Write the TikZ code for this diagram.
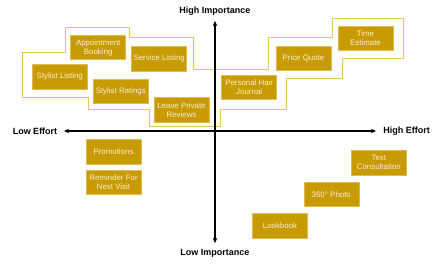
\documentclass[tikz,border=0pt]{standalone}
\usepackage{fontspec}
\setmainfont{Liberation Sans}
\usetikzlibrary{arrows.meta}
\definecolor{boxfill}{HTML}{C89B02}
\definecolor{boxedge}{HTML}{DDBB55}
\definecolor{boxtext}{HTML}{F7EED6}
\definecolor{outl}{HTML}{E5C65E}
\tikzset{
  idea/.style={draw=boxedge, line width=0.6pt, fill=boxfill, text=boxtext,
    minimum width=55pt, minimum height=24.5pt, inner sep=1pt, align=center,
    font=\fontsize{7.9}{9}\selectfont},
  axislabel/.style={font=\fontsize{9}{11}\selectfont\bfseries, text=black, inner sep=0pt},
  axis/.style={line width=1.1pt, {Stealth[length=5pt,width=4.5pt,inset=1.5pt]}-{Stealth[length=5pt,width=4.5pt,inset=1.5pt]}},
  group/.style={draw=outl, line width=1pt}
}
\begin{document}
\begin{tikzpicture}[x=1pt,y=-1pt]
\useasboundingbox (0,0) rectangle (440,263);
\fill[white] (0,0) rectangle (440,263);
% grouping outline
\draw[group] (22.3,52) -- (65.5,52) -- (65.5,27.3) -- (129,27.3) -- (129,37.3) -- (193.3,37.3) -- (193.3,69.5) -- (268.3,69.5) -- (268.3,37) -- (332,37) -- (332,18.3) -- (403.3,18.3) -- (403.3,58) -- (342,58) -- (342,78.7) -- (286,78.7) -- (286,109.3) -- (220,109.3) -- (220,126.3) -- (149.3,126.3) -- (149.3,109.5) -- (88.3,109.5) -- (88.3,97.7) -- (22.3,97.7) -- cycle;
% axes
\coordinate (top) at (215,21);
\coordinate (bottom) at (215,243);
\coordinate (left) at (64,131);
\coordinate (right) at (376,131);
\draw[axis] (bottom) -- (top);
\draw[axis] (left) -- (right);
\node[axislabel] (hi) at (215,11) {High Importance};
\node[axislabel] (lo) at (215,253) {Low Importance};
\node[axislabel] (le) at (35,131) {Low Effort};
\node[axislabel] (he) at (406.7,131) {High Effort};
% ideas
\node[idea] (appt) at (98.2,47.5) {Appointment\\Booking};
\node[idea] (serv) at (159.2,58.8) {Service Listing};
\node[idea] (slist) at (59.8,76.7) {Stylist Listing};
\node[idea] (srat) at (120.8,91.2) {Stylist Ratings};
\node[idea] (rev) at (181.5,110) {Leave Private\\Reviews};
\node[idea] (journal) at (249.2,87.5) {Personal Hair\\Journal};
\node[idea] (quote) at (303.5,58.5) {Price Quote};
\node[idea] (time) at (365.5,38.3) {Time\\Estimate};
\node[idea] (promo) at (113.5,151.8) {Promotions};
\node[idea] (remind) at (113.5,182.2) {Reminder For\\Next Visit};
\node[idea] (text) at (378.8,162.8) {Text\\Consultation};
\node[idea] (photo) at (331.3,194.2) {360° Photo};
\node[idea] (look) at (280,225.8) {Lookbook};
\end{tikzpicture}
\end{document}
